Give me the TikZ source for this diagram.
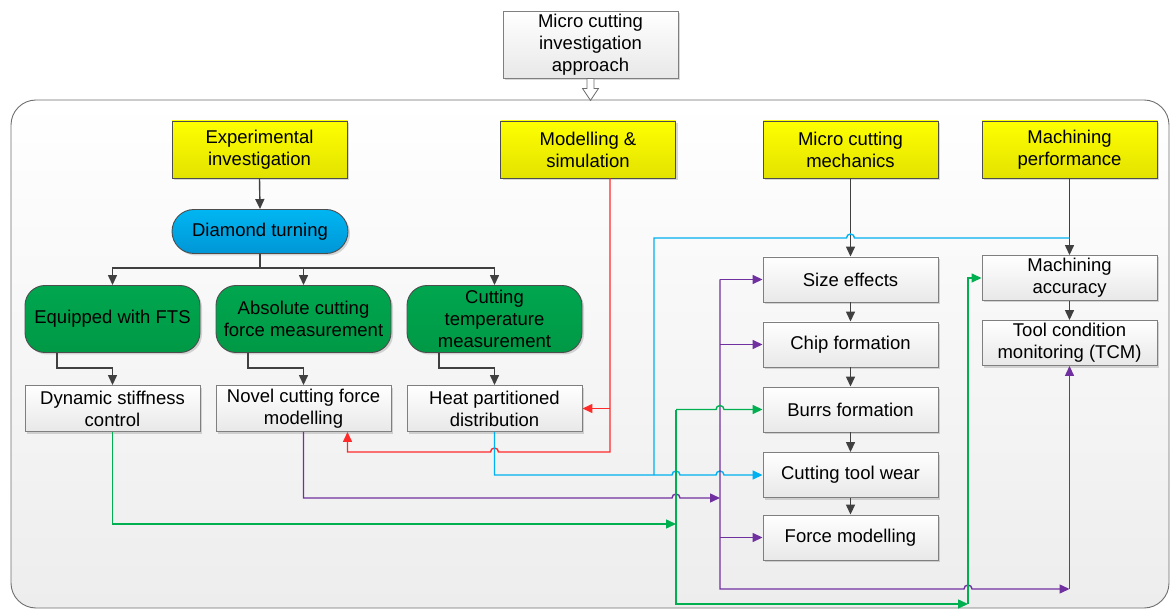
\documentclass[tikz,border=0pt]{standalone}
\usepackage{fontspec}
\setmainfont{Liberation Sans}
\usetikzlibrary{arrows.meta,shadows}
\definecolor{ylwtop}{HTML}{FFFF00}
\definecolor{ylwbot}{HTML}{E2E200}
\definecolor{grnfill}{HTML}{00A64F}
\definecolor{grnbot}{HTML}{009946}
\definecolor{blutop}{HTML}{00B6F2}
\definecolor{blubot}{HTML}{0096D6}
\definecolor{boxbot}{HTML}{E8E8E8}
\definecolor{boxline}{HTML}{7F7F7F}
\definecolor{darkline}{HTML}{4D4D4D}
\definecolor{conbot}{HTML}{EDEDED}
\definecolor{conline}{HTML}{6E6E6E}
\definecolor{lred}{HTML}{FF2A2A}
\definecolor{lcyan}{HTML}{00B0F0}
\definecolor{lpurple}{HTML}{7030A0}
\definecolor{lgreen}{HTML}{00B050}
\definecolor{lgray}{HTML}{404040}
\begin{document}
\begin{tikzpicture}[x=1pt,y=1pt,
  every node/.style={font=\fontsize{18.5}{22}\selectfont, align=center, inner sep=0pt, text=black},
  shad/.style={drop shadow={shadow xshift=2pt, shadow yshift=-2pt, opacity=0.25, fill=black!60}},
  whitebox/.style={shad, draw=boxline, line width=0.9pt, minimum width=175pt, minimum height=45pt, top color=white, bottom color=boxbot},
  hdrbox/.style={shad, draw=darkline, line width=0.9pt, minimum width=175pt, minimum height=57pt, top color=ylwtop, bottom color=ylwbot},
  grnbox/.style={shad, draw=darkline, line width=0.9pt, minimum width=175pt, minimum height=67pt, rounded corners=20pt, top color=grnfill, bottom color=grnbot},
  blubox/.style={shad, draw=darkline, line width=0.9pt, minimum width=176pt, minimum height=44pt, rounded corners=22pt, top color=blutop, bottom color=blubot},
  tip/.style={-{Triangle[length=10pt,width=9pt]}},
  gconn/.style={draw=lgray, line width=1.4pt},
  garrow/.style={gconn, tip},
  rconn/.style={draw=lred, line width=1.4pt},
  cconn/.style={draw=lcyan, line width=1.4pt},
  pconn/.style={draw=lpurple, line width=1.4pt},
  lgconn/.style={draw=lgreen, line width=1.4pt}
]
\useasboundingbox (0,0) rectangle (1172,-609);
% container
\path[draw=conline, line width=0.9pt, top color=white, bottom color=conbot, rounded corners=25pt] (11,-100) rectangle (1169,-608);

% top node
\node[whitebox, minimum height=67pt] (top) at (590.5,-44.5) {Micro cutting\\investigation\\approach};
\begin{scope}[shift={(top.south)}]
\draw[draw=conline, fill=white, line width=0.8pt] (-3.5,0) -- (-3.5,-10) -- (-8,-10) -- (0,-22) -- (8,-10) -- (3.5,-10) -- (3.5,0) -- cycle;
\end{scope}

% headers
\node[hdrbox] (exp) at (259.5,-149.5) {Experimental\\investigation};
\node[hdrbox] (ms)  at (588,-149.5) {Modelling \&\\simulation};
\node[hdrbox] (mcm) at (850.5,-149.5) {Micro cutting\\mechanics};
\node[hdrbox] (mp)  at (1069.5,-149.5) {Machining\\performance};

% left part
\node[blubox] (dt) at (260,-231.5) {Diamond turning};
\node[grnbox] (g1) at (112.5,-319) {Equipped with FTS};
\node[grnbox] (g2) at (303.5,-319) {Absolute cutting\\force measurement};
\node[grnbox] (g3) at (494.5,-319) {Cutting\\temperature\\measurement};
\node[whitebox, minimum height=46pt] (w1) at (112.5,-408.5) {Dynamic stiffness\\control};
\node[whitebox, minimum height=46pt] (w2) at (303.5,-408.5) {Novel cutting force\\modelling};
\node[whitebox, minimum height=46pt] (w3) at (494.5,-408.5) {Heat partitioned\\distribution};

% mechanics column
\node[whitebox] (se)  at (850.5,-279.5) {Size effects};
\node[whitebox] (cf)  at (850.5,-344.5) {Chip formation};
\node[whitebox] (bf)  at (850.5,-409.5) {Burrs formation};
\node[whitebox] (ctw) at (850.5,-475) {Cutting tool wear};
\node[whitebox] (fm)  at (850.5,-537.5) {Force modelling};

% performance column
\node[whitebox] (ma)  at (1069.5,-278) {Machining\\accuracy};
\node[whitebox] (tcm) at (1069.5,-343) {Tool condition\\monitoring (TCM)};

% gray connectors
\draw[garrow] (exp.south) -- (dt.north);
\coordinate (br) at (260,-268);
\draw[gconn] (dt.south) -- (br);
\draw[garrow] (br) -| (g1.north);
\draw[garrow] (br) -| (g2.north);
\draw[garrow] (br) -| (g3.north);
\draw[garrow] ([xshift=-55.5pt]g1.south) -- ++(0,-15) -| (w1.north);
\draw[garrow] ([xshift=-55.5pt]g2.south) -- ++(0,-15) -| (w2.north);
\draw[garrow] ([xshift=-55.5pt]g3.south) -- ++(0,-15) -| (w3.north);
\draw[garrow] (mcm.south) -- (se.north);
\draw[garrow] (se.south) -- (cf.north);
\draw[garrow] (cf.south) -- (bf.north);
\draw[garrow] (bf.south) -- (ctw.north);
\draw[garrow] (ctw.south) -- (fm.north);
\draw[garrow] (mp.south) -- (ma.north);
\draw[garrow] (ma.south) -- (tcm.north);

% red
\coordinate (rx) at ([xshift=22pt]ms.south);
\draw[rconn, tip] (rx) -- (610,-452) -- (498.5,-452) arc[start angle=0,end angle=180,radius=4] -- (347.5,-452) -- ([xshift=44pt]w2.south);
\draw[rconn, tip] (rx |- w3.east) -- (w3.east);

% cyan
\draw[cconn, tip] (w3.south) -- (w3.south |- ctw.west) -- (672,-475) arc[start angle=180,end angle=0,radius=4] -- (716,-475) arc[start angle=180,end angle=0,radius=4] -- (ctw.west);
\draw[cconn] (654,-475) -- (654,-238) -- (846.5,-238) arc[start angle=180,end angle=0,radius=4] -- (mp.south |- 0,-238);

% purple
\draw[pconn, tip] (w2.south) -- (303.5,-498) -- (672,-498) arc[start angle=180,end angle=0,radius=4] -- (720,-498);
\draw[pconn, tip] (720,-279.5) -- (720,-589) -- (964,-589) arc[start angle=180,end angle=0,radius=4] -- (tcm.south |- 0,-589);
\draw[pconn, tip] (tcm.south |- 0,-589) -- (tcm.south);
\draw[pconn, tip] (720,-279.5) -- (se.west);
\draw[pconn, tip] (720,-344.5) -- (cf.west);
\draw[pconn, tip] (720,-537.5) -- (fm.west);

% green
\draw[lgconn, tip] (w1.south) -- (112.5,-524) -- (676,-524);
\draw[lgconn, tip] (676,-409.5) -- (676,-604) -- (968,-604);
\draw[lgconn, tip] (676,-409.5) -- (716,-409.5) arc[start angle=180,end angle=0,radius=4] -- (bf.west);
\draw[lgconn, tip] (968,-604) -- (968,-278) -- (ma.west);
\end{tikzpicture}
\end{document}
